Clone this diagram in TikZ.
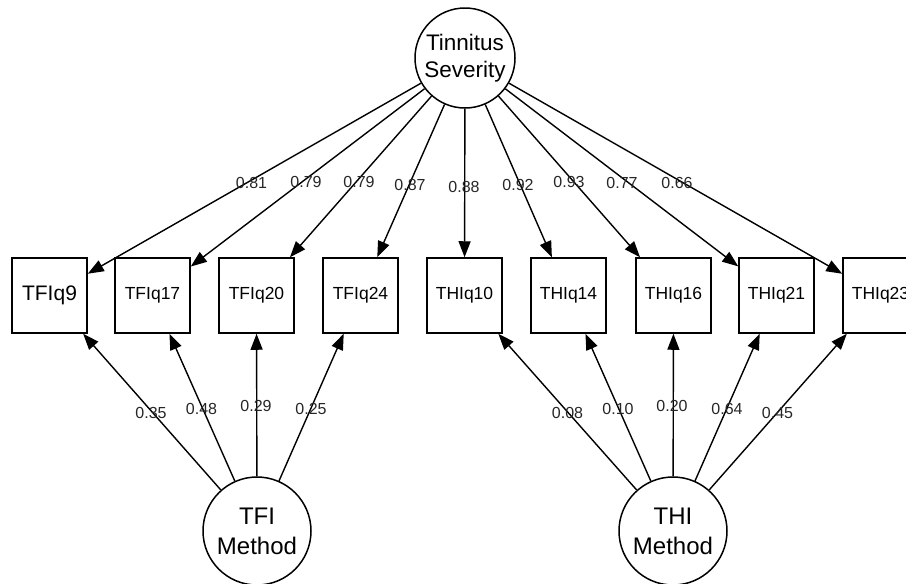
\documentclass[tikz,border=0pt]{standalone}
\usepackage{fontspec}
\setmainfont{Liberation Sans}
\usetikzlibrary{arrows.meta}
\begin{document}
\begin{tikzpicture}[x=1pt,y=-1pt,
  latent/.style={circle,draw,line width=1.5pt,minimum size=100pt,inner sep=0pt,align=center,font=\fontsize{22.5}{27}\selectfont},
  method/.style={latent,minimum size=108pt,font=\fontsize{24}{30}\selectfont},
  obs/.style={rectangle,draw,line width=1.5pt,minimum size=75pt,inner sep=0pt,font=\fontsize{17.5}{19}\selectfont},
  loading/.style={line width=1.4pt,-{Triangle[length=16pt,width=12pt]}},
  coef/.style={font=\fontsize{16}{18}\selectfont,inner sep=0pt,text=black!85}]
\clip (0,0) rectangle (906,584);
\fill[white] (0,0) rectangle (906,584);

\node[latent] (ts) at (465,58) {Tinnitus\\Severity};
\node[method] (tfi) at (257,531) {TFI\\Method};
\node[method] (thi) at (673,531) {THI\\Method};

\node[obs,font=\fontsize{21}{23}\selectfont] (b1) at (49.5,295.5) {TFIq9};
\node[obs] (b2) at (152.5,295.5) {TFIq17};
\node[obs] (b3) at (256.5,295.5) {TFIq20};
\node[obs] (b4) at (360.5,295.5) {TFIq24};
\node[obs] (b5) at (464.5,295.5) {THIq10};
\node[obs] (b6) at (568.5,295.5) {THIq14};
\node[obs] (b7) at (673.5,295.5) {THIq16};
\node[obs] (b8) at (776.5,295.5) {THIq21};
\node[obs] (b9) at (880.5,295.5) {THIq23};

\foreach \b in {b1,b2,b3,b4,b5,b6,b7,b8,b9} \draw[loading] (ts) -- (\b);
\foreach \b in {b1,b2,b3,b4} \draw[loading] (tfi) -- (\b);
\foreach \b in {b5,b6,b7,b8,b9} \draw[loading] (thi) -- (\b);

\node[coef] (l1) at (251.5,183) {0.81};
\node[coef] (l2) at (306,182) {0.79};
\node[coef] (l3) at (359,182) {0.79};
\node[coef] (l4) at (410,185) {0.87};
\node[coef] (l5) at (464,187) {0.88};
\node[coef] (l6) at (518,185) {0.92};
\node[coef] (l7) at (569,182) {0.93};
\node[coef] (l8) at (622,183) {0.77};
\node[coef] (l9) at (677,183) {0.66};

\node[coef] (m1) at (151,413) {0.35};
\node[coef] (m2) at (201.5,409) {0.48};
\node[coef] (m3) at (256,406) {0.29};
\node[coef] (m4) at (311,409) {0.25};
\node[coef] (m5) at (567.5,413) {0.08};
\node[coef] (m6) at (618,409) {0.10};
\node[coef] (m7) at (672,406) {0.20};
\node[coef] (m8) at (727,409) {0.64};
\node[coef] (m9) at (777.5,413) {0.45};
\end{tikzpicture}
\end{document}
